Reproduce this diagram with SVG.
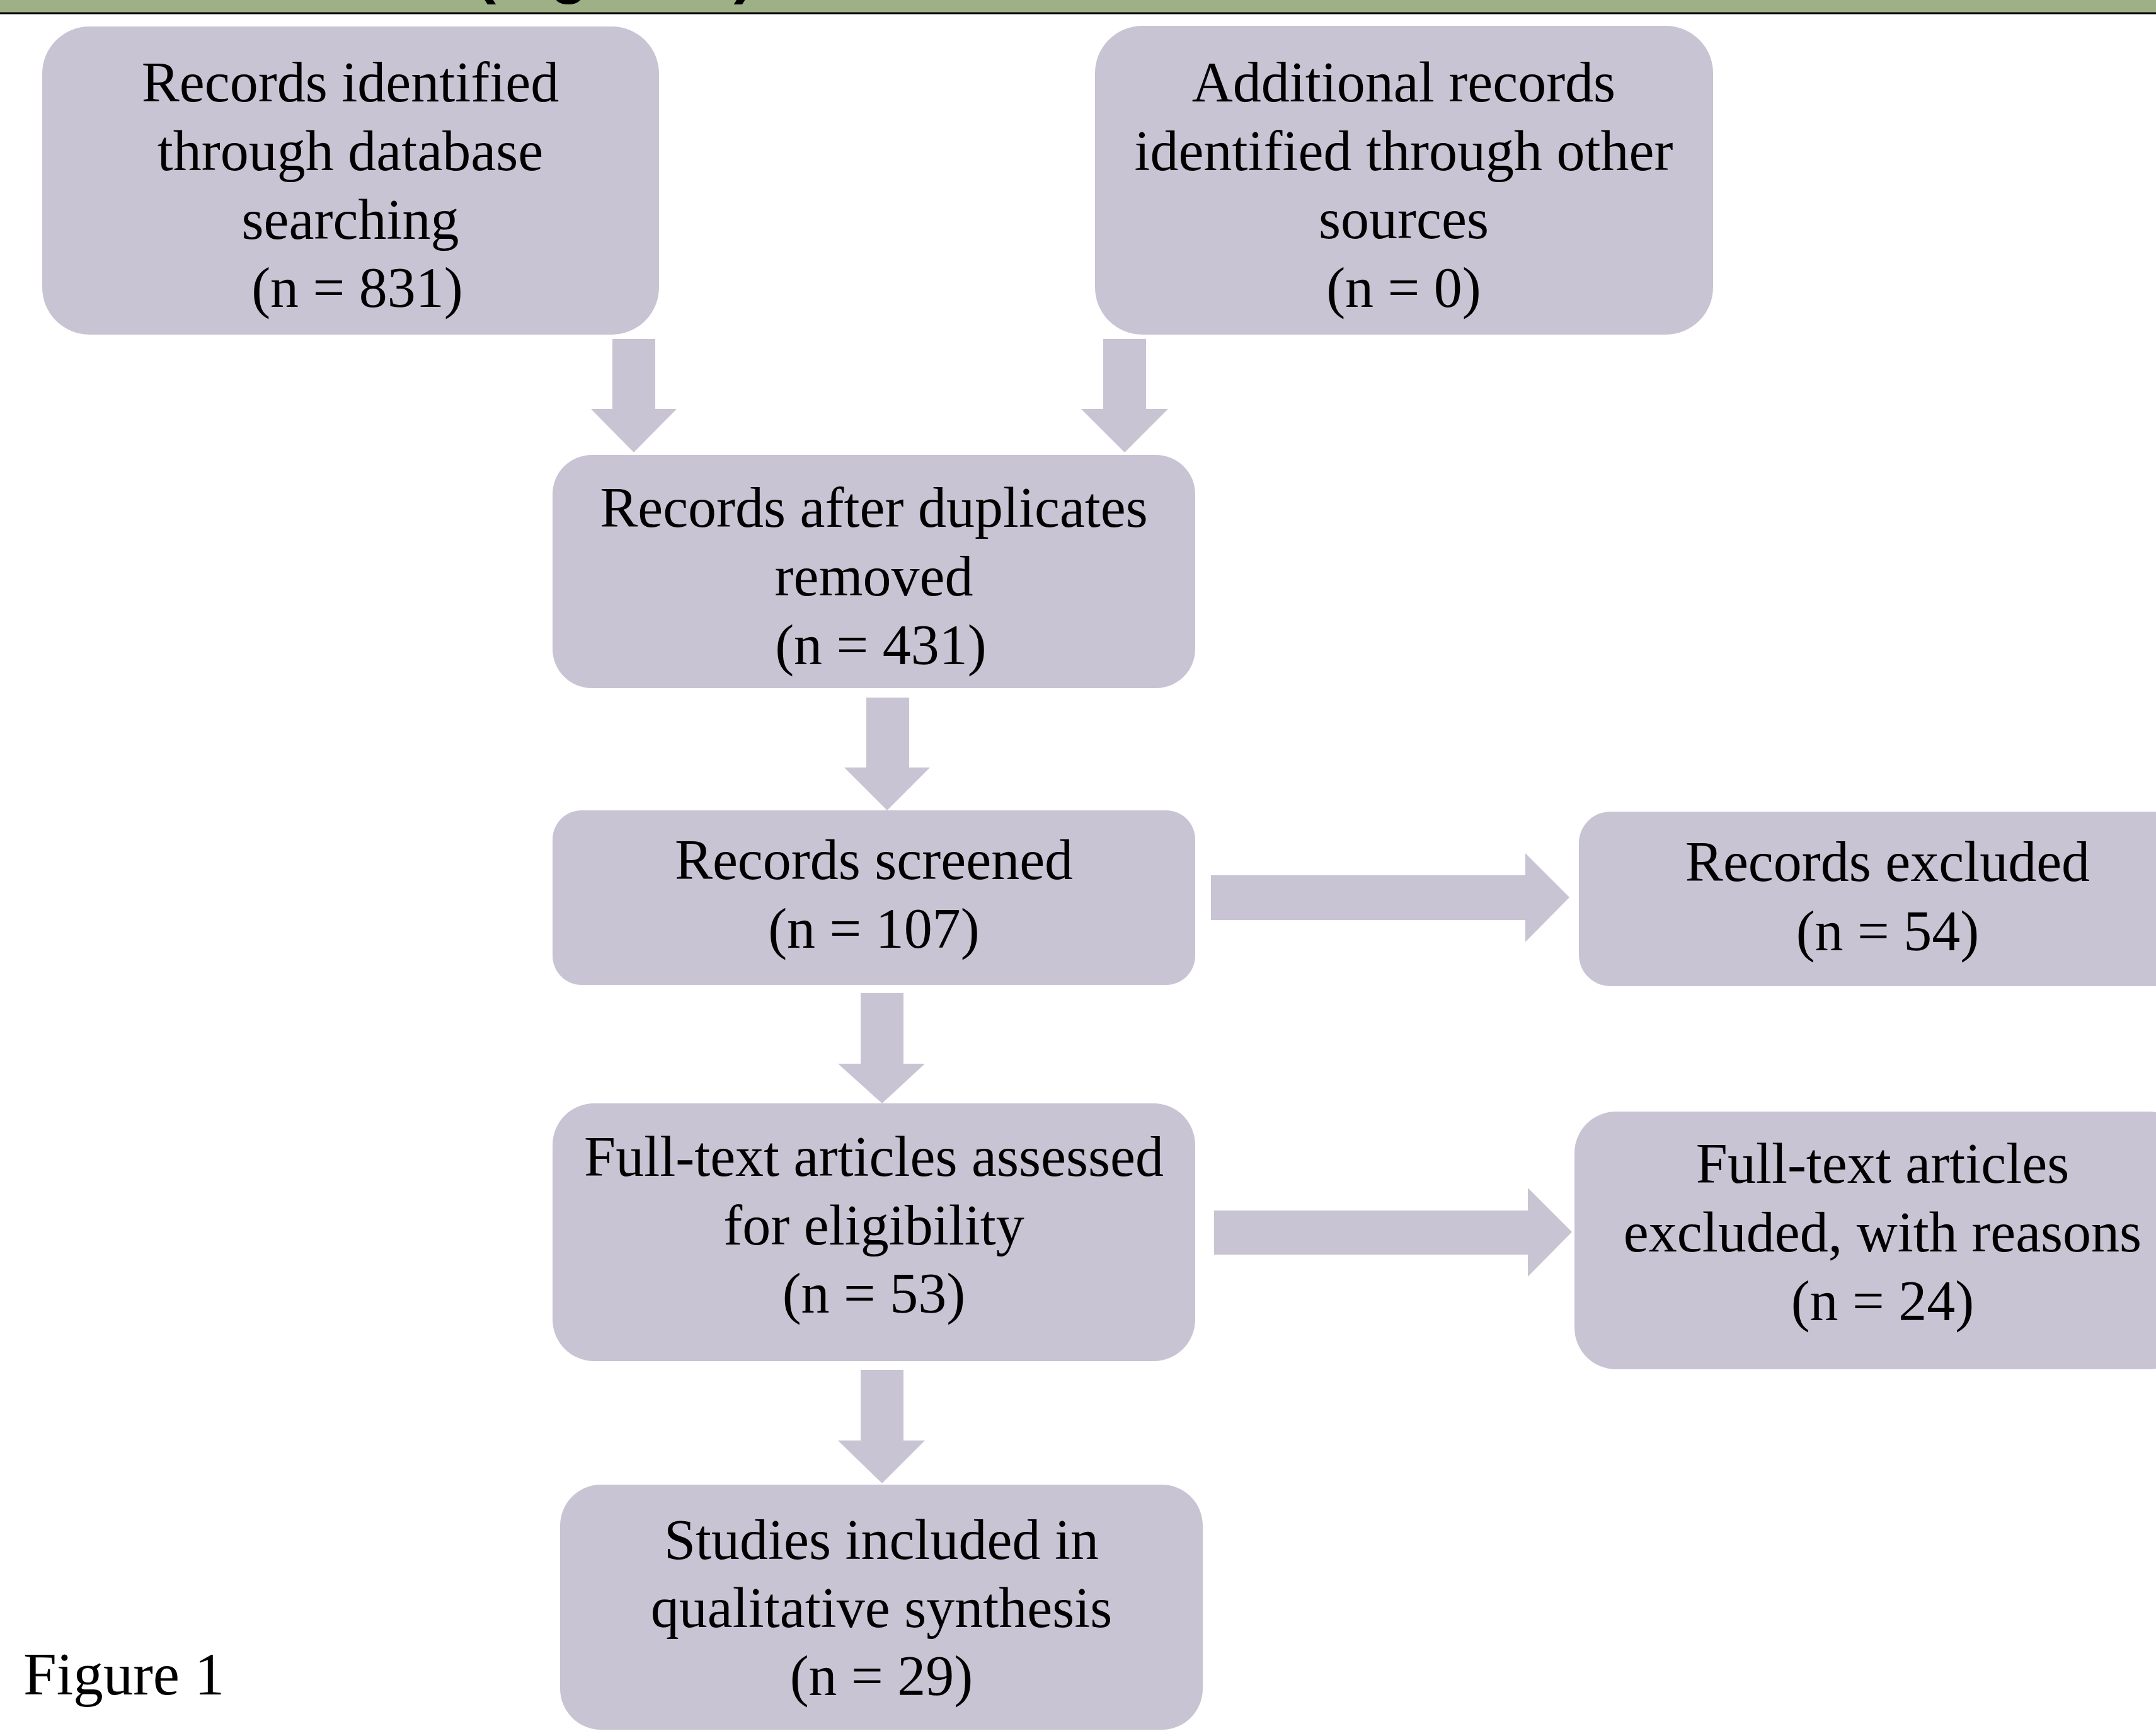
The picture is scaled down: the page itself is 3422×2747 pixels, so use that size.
<svg xmlns="http://www.w3.org/2000/svg" width="3422" height="2747" viewBox="0 0 3422 2747">
<style>
.box{fill:#c9c4d3}
.arr{fill:#c9c4d3}
.t{font-family:"Liberation Serif","Times New Roman",serif;font-size:90px;fill:#000;text-anchor:middle}
.cap{font-family:"Liberation Serif","Times New Roman",serif;font-size:95px;fill:#000}
.hdr{font-family:"Liberation Sans",Arial,sans-serif;font-size:97px;font-weight:bold;fill:#000}
</style>
<rect x="0" y="0" width="3422" height="20" fill="#9db086"/>
<text class="hdr" x="755" y="-13">(Figure 1)</text>
<line x1="0" y1="21" x2="3422" y2="21" stroke="#000" stroke-width="3"/>
<g id="connectors">
<polygon class="arr" points="972,538 1040,538 1040,649 1074,649 1006,718 938,649 972,649"/>
<polygon class="arr" points="1751,538 1819,538 1819,649 1854,649 1785,718 1716,649 1751,649"/>
<polygon class="arr" points="1375,1107 1443,1107 1443,1218 1476,1218 1408,1286 1340,1218 1375,1218"/>
<polygon class="arr" points="1366,1576 1434,1576 1434,1688 1468,1688 1400,1751 1330,1688 1366,1688"/>
<polygon class="arr" points="1366,2174 1434,2174 1434,2286 1468,2286 1400,2354 1330,2286 1366,2286"/>
<polygon class="arr" points="1922,1389 2421,1389 2421,1354 2491,1424 2421,1495 2421,1460 1922,1460"/>
<polygon class="arr" points="1927,1921 2425,1921 2425,1885 2495,1955 2425,2026 2425,1991 1927,1991"/>
</g>
<g id="n1">
<rect class="box" x="67" y="42" width="979" height="489" rx="75" ry="75"/>
<text class="t" x="556" y="161">Records identified</text>
<text class="t" x="556" y="270">through database</text>
<text class="t" x="556" y="379">searching</text>
<text class="t" x="567" y="487">(n = 831)</text>
</g>
<g id="n2">
<rect class="box" x="1738" y="41" width="981" height="490" rx="75" ry="75"/>
<text class="t" x="2228" y="161">Additional records</text>
<text class="t" x="2228" y="270">identified through other</text>
<text class="t" x="2228" y="378">sources</text>
<text class="t" x="2228" y="487">(n = 0)</text>
</g>
<g id="n3">
<rect class="box" x="877" y="722" width="1020" height="370" rx="62" ry="62"/>
<text class="t" x="1387" y="836">Records after duplicates</text>
<text class="t" x="1387" y="945">removed</text>
<text class="t" x="1398" y="1054">(n = 431)</text>
</g>
<g id="n4">
<rect class="box" x="877" y="1286" width="1020" height="277" rx="46" ry="46"/>
<text class="t" x="1387" y="1395">Records screened</text>
<text class="t" x="1387" y="1504">(n = 107)</text>
</g>
<g id="n5">
<rect class="box" x="2506" y="1288" width="980" height="277" rx="50" ry="50"/>
<text class="t" x="2996" y="1398">Records excluded</text>
<text class="t" x="2996" y="1508">(n = 54)</text>
</g>
<g id="n6">
<rect class="box" x="877" y="1751" width="1020" height="409" rx="66" ry="66"/>
<text class="t" x="1387" y="1866">Full-text articles assessed</text>
<text class="t" x="1387" y="1975">for eligibility</text>
<text class="t" x="1387" y="2083">(n = 53)</text>
</g>
<g id="n7">
<rect class="box" x="2499" y="1764" width="978" height="409" rx="66" ry="66"/>
<text class="t" x="2988" y="1877">Full-text articles</text>
<text class="t" x="2988" y="1986">excluded, with reasons</text>
<text class="t" x="2988" y="2095">(n = 24)</text>
</g>
<g id="n8">
<rect class="box" x="889" y="2356" width="1020" height="389" rx="65" ry="65"/>
<text class="t" x="1399" y="2474">Studies included in</text>
<text class="t" x="1399" y="2582">qualitative synthesis</text>
<text class="t" x="1399" y="2690">(n = 29)</text>
</g>
<text class="cap" x="37" y="2689">Figure 1</text>
</svg>
